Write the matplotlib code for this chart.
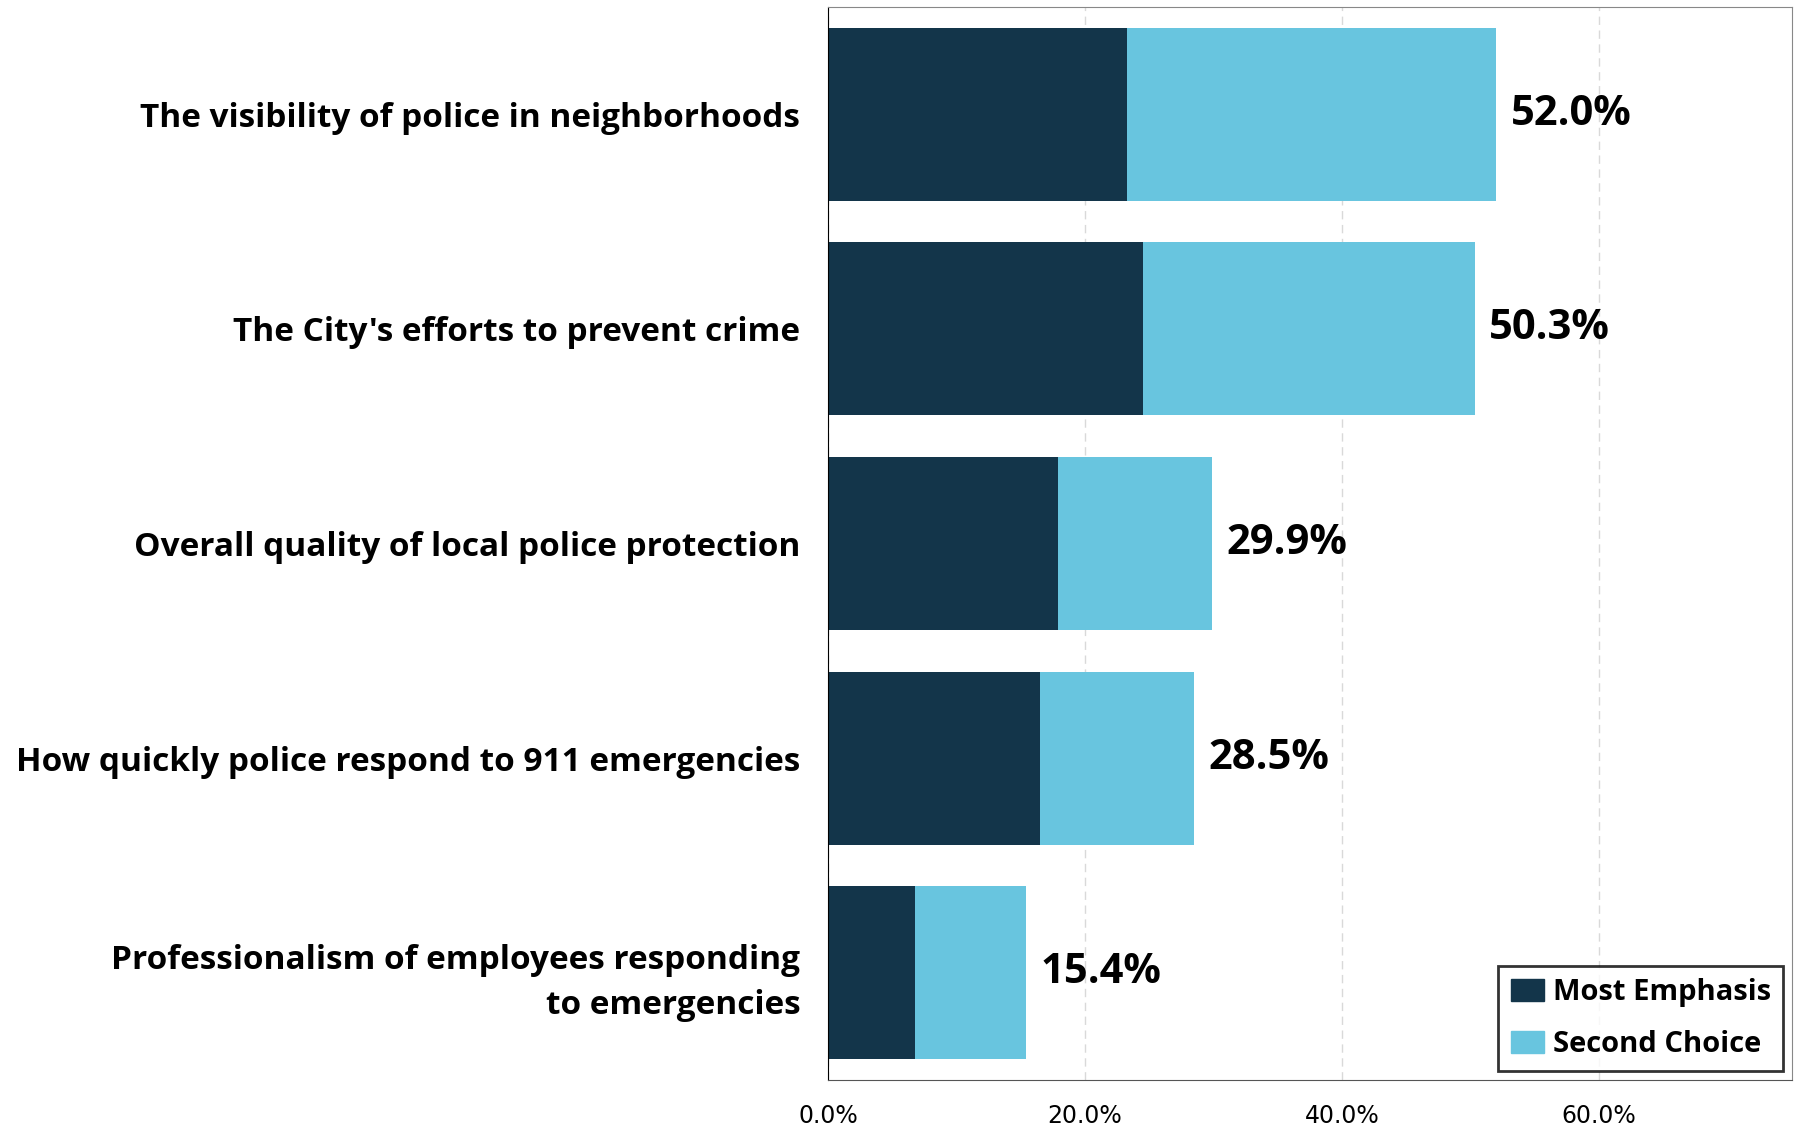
import matplotlib.pyplot as plt
from matplotlib.ticker import FuncFormatter
from matplotlib.patches import Patch

# survey items, top to bottom
items = [
    "The visibility of police in neighborhoods",
    "The City's efforts to prevent crime",
    "Overall quality of local police protection",
    "How quickly police respond to 911 emergencies",
    "Professionalism of employees responding\nto emergencies",
]
most_emphasis = [23.3, 24.5, 17.9, 16.5, 6.8]
totals = [52.0, 50.3, 29.9, 28.5, 15.4]
second_choice = [t - m for t, m in zip(totals, most_emphasis)]

dark = "#13354A"
light = "#68C5DF"

plt.rcParams["font.family"] = ["Open Sans", "DejaVu Sans"]

fig = plt.figure(figsize=(17.98, 11.28), dpi=100)
ax = fig.add_axes([0.4605, 0.0424, 0.5362, 0.9515])

ypos = list(range(len(items)))
ax.barh(ypos, most_emphasis, height=0.805, color=dark)
ax.barh(ypos, second_choice, left=most_emphasis, height=0.805, color=light)

for y, t in zip(ypos, totals):
    ax.text(t + 1.1, y, f"{t:.1f}%", va="center", ha="left",
            fontsize=30, fontweight="bold")

ax.set_ylim(4.5, -0.5)
ax.set_xlim(0, 75)
ax.set_xticks([0, 20, 40, 60])
ax.xaxis.set_major_formatter(FuncFormatter(lambda v, p: f"{v:.1f}%"))
ax.tick_params(axis="x", length=0, pad=17)
for lbl in ax.get_xticklabels():
    lbl.set_family(["Liberation Sans Narrow", "DejaVu Sans"])
    lbl.set_fontsize(17)
ax.set_yticks(ypos)
ax.set_yticklabels(items, fontsize=24, fontweight="bold")
for lbl in ax.get_yticklabels():
    lbl.set_linespacing(1.5)
ax.tick_params(axis="y", length=0, pad=20)

ax.grid(axis="x", color="#D9D9D9", linestyle=(0, (6, 4)), linewidth=1)
ax.set_axisbelow(True)
ax.spines["left"].set_color("black")
ax.spines["bottom"].set_color("#555555")
ax.spines["top"].set_color("#888888")
ax.spines["right"].set_color("#888888")

handles = [Patch(color=dark, label="Most Emphasis"),
           Patch(color=light, label="Second Choice")]
leg = ax.legend(handles=handles, loc="lower right",
                prop={"weight": "bold", "size": 21}, frameon=True,
                fancybox=False, edgecolor="black", handlelength=1.15,
                handleheight=0.8, handletextpad=0.3, borderpad=0.42,
                labelspacing=0.8, borderaxespad=0.3)
leg.get_frame().set_linewidth(2)

fig.savefig("out.png", dpi=100)
